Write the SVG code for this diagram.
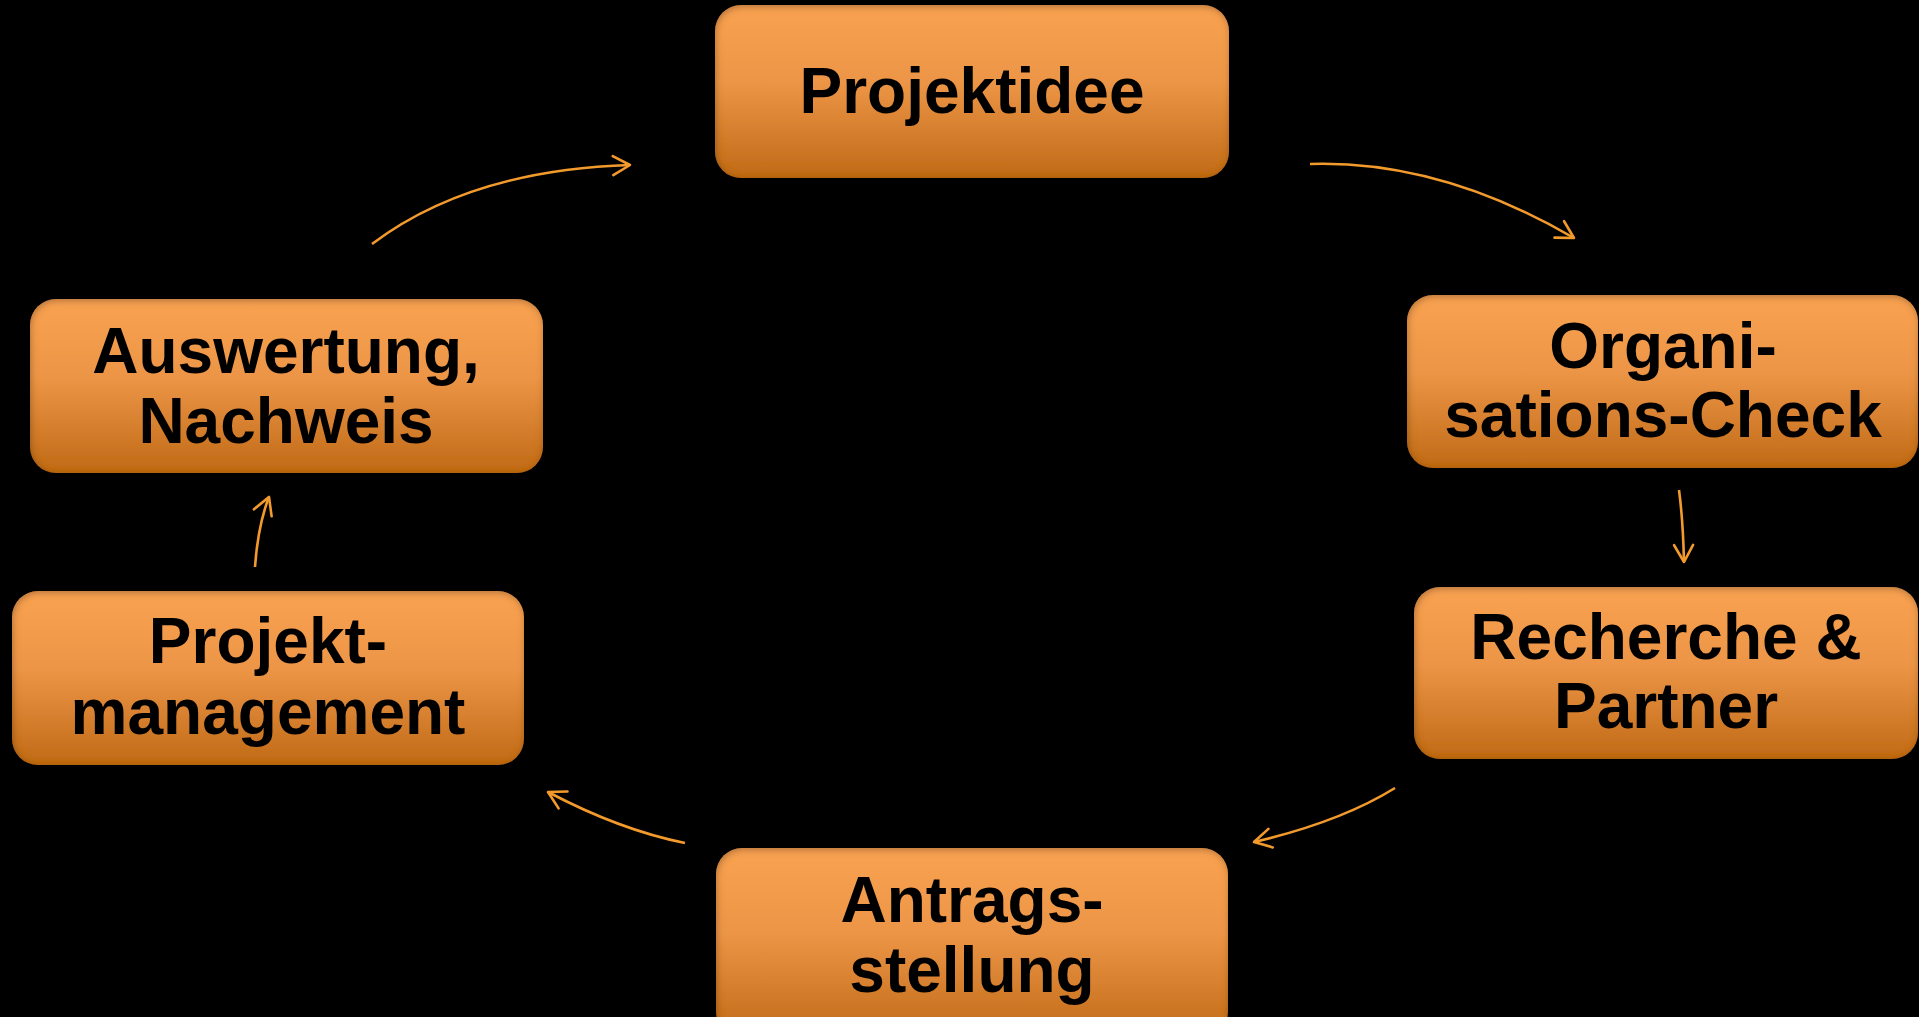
<svg xmlns="http://www.w3.org/2000/svg" width="1919" height="1017" viewBox="0 0 1919 1017">
<defs>
<linearGradient id="g" x1="0" y1="0" x2="0" y2="1">
<stop offset="0" stop-color="#F9A252"/>
<stop offset="0.45" stop-color="#EC9546"/>
<stop offset="1" stop-color="#C06A17"/>
</linearGradient>
<filter id="inner" x="-5%" y="-5%" width="110%" height="110%">
<feGaussianBlur in="SourceAlpha" stdDeviation="3.5" result="blur"/>
<feOffset in="blur" dx="1" dy="2" result="ob"/>
<feComposite in="SourceAlpha" in2="ob" operator="arithmetic" k2="1" k3="-1" result="edge"/>
<feFlood flood-color="#000" flood-opacity="0.55"/>
<feComposite in2="edge" operator="in" result="shadow"/>
<feMerge><feMergeNode in="SourceGraphic"/><feMergeNode in="shadow"/></feMerge>
</filter>
<marker id="arr" markerUnits="userSpaceOnUse" markerWidth="40" markerHeight="40" refX="20" refY="20" orient="auto" overflow="visible">
<polyline points="3,10.5 20,20 3,29.5" fill="none" stroke="#F39A2C" stroke-width="2.6" stroke-linecap="round" stroke-linejoin="round"/>
</marker>
</defs>
<style>
.box{fill:url(#g);filter:url(#inner);}
.lbl{font-family:"Liberation Sans",Arial,sans-serif;font-weight:bold;font-size:64px;fill:#000;text-anchor:middle;}
.con{fill:none;stroke:#F39A2C;stroke-width:2.6;marker-end:url(#arr);}
</style>
<rect width="1919" height="1017" fill="#000"/>
<g id="connectors">
<path class="con" d="M1310,164 Q1440,160 1574,238"/>
<path class="con" d="M1679,490 Q1683,520 1684,562"/>
<path class="con" d="M1395,788 Q1340,822 1254,842"/>
<path class="con" d="M685,843 Q620,830 548,792"/>
<path class="con" d="M255,567 Q258,525 269,497"/>
<path class="con" d="M372,244 Q470,170 630,165"/>
</g>
<g id="n1">
<rect class="box" x="715" y="5" width="514" height="173" rx="26"/>
<text class="lbl" x="972" y="113">Projektidee</text>
</g>
<g id="n2">
<rect class="box" x="1407" y="295" width="511" height="173" rx="26"/>
<text class="lbl" x="1663" y="368">Organi-</text>
<text class="lbl" x="1663" y="437">sations-Check</text>
</g>
<g id="n3">
<rect class="box" x="1414" y="587" width="504" height="172" rx="26"/>
<text class="lbl" x="1666" y="659">Recherche &amp;</text>
<text class="lbl" x="1666" y="728">Partner</text>
</g>
<g id="n4">
<rect class="box" x="716" y="848" width="512" height="190" rx="26"/>
<text class="lbl" x="972" y="922">Antrags-</text>
<text class="lbl" x="972" y="992">stellung</text>
</g>
<g id="n5">
<rect class="box" x="12" y="591" width="512" height="174" rx="26"/>
<text class="lbl" x="268" y="663">Projekt-</text>
<text class="lbl" x="268" y="734">management</text>
</g>
<g id="n6">
<rect class="box" x="30" y="299" width="513" height="174" rx="26"/>
<text class="lbl" x="286" y="373">Auswertung,</text>
<text class="lbl" x="286" y="443">Nachweis</text>
</g>
</svg>
